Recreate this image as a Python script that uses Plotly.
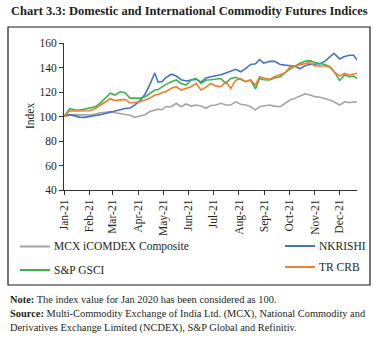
import plotly.graph_objects as go

dates = ["2021-01-01","2021-01-08","2021-01-14","2021-01-20","2021-01-26","2021-02-01","2021-02-08","2021-02-14",
         "2021-02-20","2021-02-26","2021-03-04","2021-03-10","2021-03-16","2021-03-22","2021-03-28","2021-04-03",
         "2021-04-09","2021-04-15","2021-04-21","2021-04-25","2021-04-30","2021-05-04","2021-05-11","2021-05-17",
         "2021-05-23","2021-05-29","2021-06-04","2021-06-10","2021-06-16","2021-06-22","2021-06-28","2021-07-04",
         "2021-07-10","2021-07-16","2021-07-22","2021-07-28","2021-08-03","2021-08-09","2021-08-15","2021-08-21",
         "2021-08-26","2021-08-31","2021-09-07","2021-09-13","2021-09-20","2021-09-26","2021-10-02","2021-10-08",
         "2021-10-14","2021-10-20","2021-10-26","2021-11-01","2021-11-07","2021-11-13","2021-11-19","2021-11-24",
         "2021-12-01","2021-12-07","2021-12-13","2021-12-18","2021-12-22"]

mcx = [100,101.2,101.5,101.2,101.5,101.2,102,103.1,103.5,104,103,102.2,101.5,101,99.3,100.4,
       101.5,104,105.5,106,105.5,108,108,110.8,108,110.2,108.5,109.4,108.6,106.7,109,109.4,
       110.8,109.4,109.4,112,110,109.4,108,105.3,108,108.5,109.4,108.5,108,110.8,113.5,115,
       116.7,118.4,117.5,116.2,115.7,114.8,113.5,112,109.4,112,111.3,112,111.6]

nkrishi = [100.5,101.5,100.5,99.5,99.3,100.2,100.8,101.5,102.5,104,104.5,105.5,106.5,107,109.5,113,
           118,126,135.5,128,128.5,131.5,134.5,133,130,129,129.8,130.5,128,131.5,132.5,133,
           134,135.5,137,138.5,136.5,139,142.5,143,146.5,143.5,145,145,142.5,142,142,141,
           139,141.5,142.5,142.5,143,145,149,151.6,147,149,150,150,146]

gsci = [100,106.5,105.5,105.3,106,106.7,108,111,115,119,117.5,120.2,119.4,115,115,114.8,
        116,118.5,121.6,122,124.3,126,128.4,129.8,127,125.7,129.8,131,127,129.8,130,130.3,
        131,127,131,132,130,128.4,129.8,122.5,131,130,129.8,131.5,132.5,135.5,139,141,
        143.4,145,145.6,144,143.4,142.5,140.7,137,129.5,133.9,132.5,133,131]

crb = [100,104.7,104.5,104.5,104.5,104.7,106.5,109.4,112,114.5,113,113.5,114,111,111.5,112,
       113.5,114.8,117.5,118,119.5,120.2,123,124.3,121.6,123,124.3,127,121.6,124,127,125,
       124.3,128.4,123,129.5,131,128.4,129.8,125.7,132.5,131.5,130.3,132.5,134,135.8,140.7,141.5,
       142.9,143.5,144,141.2,141.5,141.2,140.5,136.6,133,135.3,133.9,135,135.3]

names = ["MCX iCOMDEX Composite", "NKRISHI", "S&P GSCI", "TR CRB"]
colors = ["#A5A5A5", "#4472C4", "#3BB54A", "#F07D32"]
series = [mcx, nkrishi, gsci, crb]

tick_vals = ["2021-%02d-01" % m for m in range(1, 13)]
tick_text = [m + "-21" for m in ["Jan","Feb","Mar","Apr","May","Jun","Jul","Aug","Sep","Oct","Nov","Dec"]]

W, H = 379, 338
L, R, T, B = 64, 22, 43, 148
pw, ph = W - L - R, H - T - B

def px(x):
    return (x - L) / pw

def py(y):
    return (H - B - y) / ph

SERIF = "Liberation Serif"
TXT = "#231F20"

fig = go.Figure()
for name, vals, col in zip(names, series, colors):
    fig.add_trace(go.Scatter(x=dates, y=vals, mode="lines", name=name,
                             line=dict(color=col, width=1.6), showlegend=False))

shapes = [dict(type="rect", xref="paper", yref="paper", x0=px(8), x1=px(370), y0=py(285), y1=py(27),
               line=dict(color="#1a1a1a", width=1.2), fillcolor="rgba(0,0,0,0)", layer="below")]
annotations = []

# legend (manual, two columns)
leg_pos = [(20, 246.5), (285, 246), (20, 270), (285, 267)]
for (lx, ly), name, col in zip(leg_pos, names, colors):
    shapes.append(dict(type="line", xref="paper", yref="paper", x0=px(lx), x1=px(lx + 30),
                       y0=py(ly), y1=py(ly), line=dict(color=col, width=2)))
    annotations.append(dict(xref="paper", yref="paper", x=px(lx + 32), y=py(ly), text=name,
                            showarrow=False, xanchor="left", yanchor="middle",
                            font=dict(family=SERIF, size=11.5, color=TXT)))

# title
annotations.append(dict(xref="paper", yref="paper", x=px(W / 2), y=py(11),
                        text="<b>Chart 3.3: Domestic and International Commodity Futures Indices</b>",
                        showarrow=False, xanchor="center", yanchor="middle",
                        font=dict(family=SERIF, size=12.5, color=TXT)))
# y-axis title
annotations.append(dict(xref="paper", yref="paper", x=px(30), y=py(116), text="Index", textangle=-90,
                        showarrow=False, xanchor="center", yanchor="middle",
                        font=dict(family=SERIF, size=11.5, color=TXT)))
# notes
notes = ["<b>Note:</b> The index value for Jan 2020 has been considered as 100.",
         "<b>Source:</b> Multi-Commodity Exchange of India Ltd. (MCX), National Commodity and",
         "Derivatives Exchange Limited (NCDEX), S&P Global and Refinitiv."]
for i, t in enumerate(notes):
    annotations.append(dict(xref="paper", yref="paper", x=px(8), y=py(299 + 14.5 * i), text=t,
                            showarrow=False, xanchor="left", yanchor="middle",
                            font=dict(family=SERIF, size=10.4, color=TXT)))

fig.update_layout(
    width=W, height=H, margin=dict(l=L, r=R, t=T, b=B),
    paper_bgcolor="white", plot_bgcolor="white",
    shapes=shapes, annotations=annotations,
    xaxis=dict(type="date", range=["2021-01-01", "2021-12-22"], tickvals=tick_vals, ticktext=tick_text,
               tickangle=-90, ticks="outside", ticklen=4, tickcolor="#333", showline=True,
               linecolor="#333", linewidth=1, showgrid=False, zeroline=False,
               tickfont=dict(family=SERIF, size=11.5, color=TXT)),
    yaxis=dict(range=[40, 160], dtick=20, ticks="outside", ticklen=4, tickcolor="#333", showline=True,
               linecolor="#333", linewidth=1, showgrid=False, zeroline=False,
               tickfont=dict(family=SERIF, size=11.5, color=TXT)),
)

fig.write_html("out.html")
